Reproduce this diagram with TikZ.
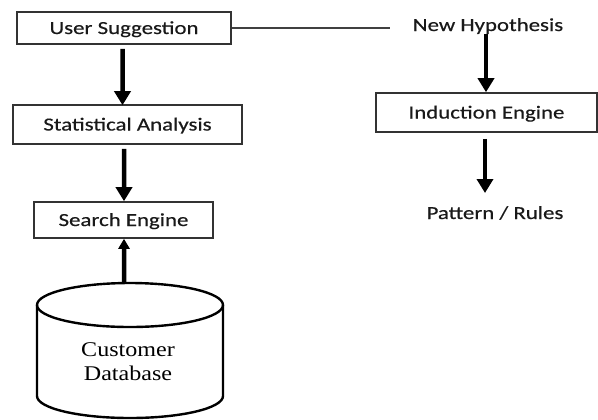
\documentclass[tikz,border=0pt]{standalone}
\usepackage{fontspec}
\setmainfont{Carlito}[FakeStretch=1.24, FakeBold=0.4]
\newfontfamily\cylfont{Liberation Serif}[FakeStretch=1.15]
\usetikzlibrary{arrows.meta}
\tikzset{
  box/.style={draw=black!80, line width=1.6bp, fill=white, inner sep=0pt,
    text height=12bp, text depth=0pt, font=\fontsize{18.5}{22}\selectfont, text=black!90},
  lbl/.style={inner sep=0pt, text height=12bp, text depth=0pt,
    font=\fontsize{18.5}{22}\selectfont, text=black!90},
  arr/.style={-{Triangle[width=16bp,length=14bp]}, line width=4.5bp},
  arrsmall/.style={-{Triangle[width=11bp,length=10bp]}, line width=4.5bp},
  cyl/.style={draw=black, line width=2.4bp},
  link/.style={draw=black!75, line width=1.4bp}
}
\begin{document}
\begin{tikzpicture}[x=1bp,y=-1bp]
\useasboundingbox[fill=white] (0,0) rectangle (598,419);
% boxes
\node[box, minimum width=214bp, minimum height=32bp] (us) at (124,28) {User Suggestion};
\node[box, minimum width=229bp, minimum height=39bp] (sa) at (127.5,124.5) {Statistical Analysis};
\node[box, minimum width=179bp, minimum height=36bp] (se) at (123.5,220) {Search Engine};
\node[box, minimum width=221bp, minimum height=39bp] (ie) at (486.5,112.5) {Induction Engine};
\node[lbl] (nh) at (488,25) {New Hypothesis};
\node[lbl] (pr) at (495,213) {Pattern / Rules};
% cylinder
\draw[cyl] (130,305) ellipse[x radius=93, y radius=22];
\draw[cyl] (37,305) -- (37,396) arc[start angle=180, end angle=0, x radius=93, y radius=22] -- (223,305);
\coordinate (cyltop) at (124,283);
\node[inner sep=0pt, align=center, font=\cylfont\fontsize{21}{24}\selectfont, text=black] (db) at (128,362) {Customer\\Database};
% connectors
\coordinate (lnend) at (390,28);
\draw[link] (us.east) -- (lnend);
\draw[arr] ([shift={(-1.5,4)}]us.south) -- ([shift={(-5,1)}]sa.north);
\draw[arr] ([shift={(-3.5,4)}]sa.south) -- ([shift={(0.5,0)}]se.north);
\draw[arrsmall] (cyltop) -- ([shift={(0.5,0)}]se.south);
\draw[arr] ([shift={(-2,9)}]nh.center) -- ([shift={(-0.5,0)}]ie.north);
\draw[arr] ([shift={(-1.5,6)}]ie.south) -- ([shift={(-10,-20)}]pr.center);
\end{tikzpicture}
\end{document}
